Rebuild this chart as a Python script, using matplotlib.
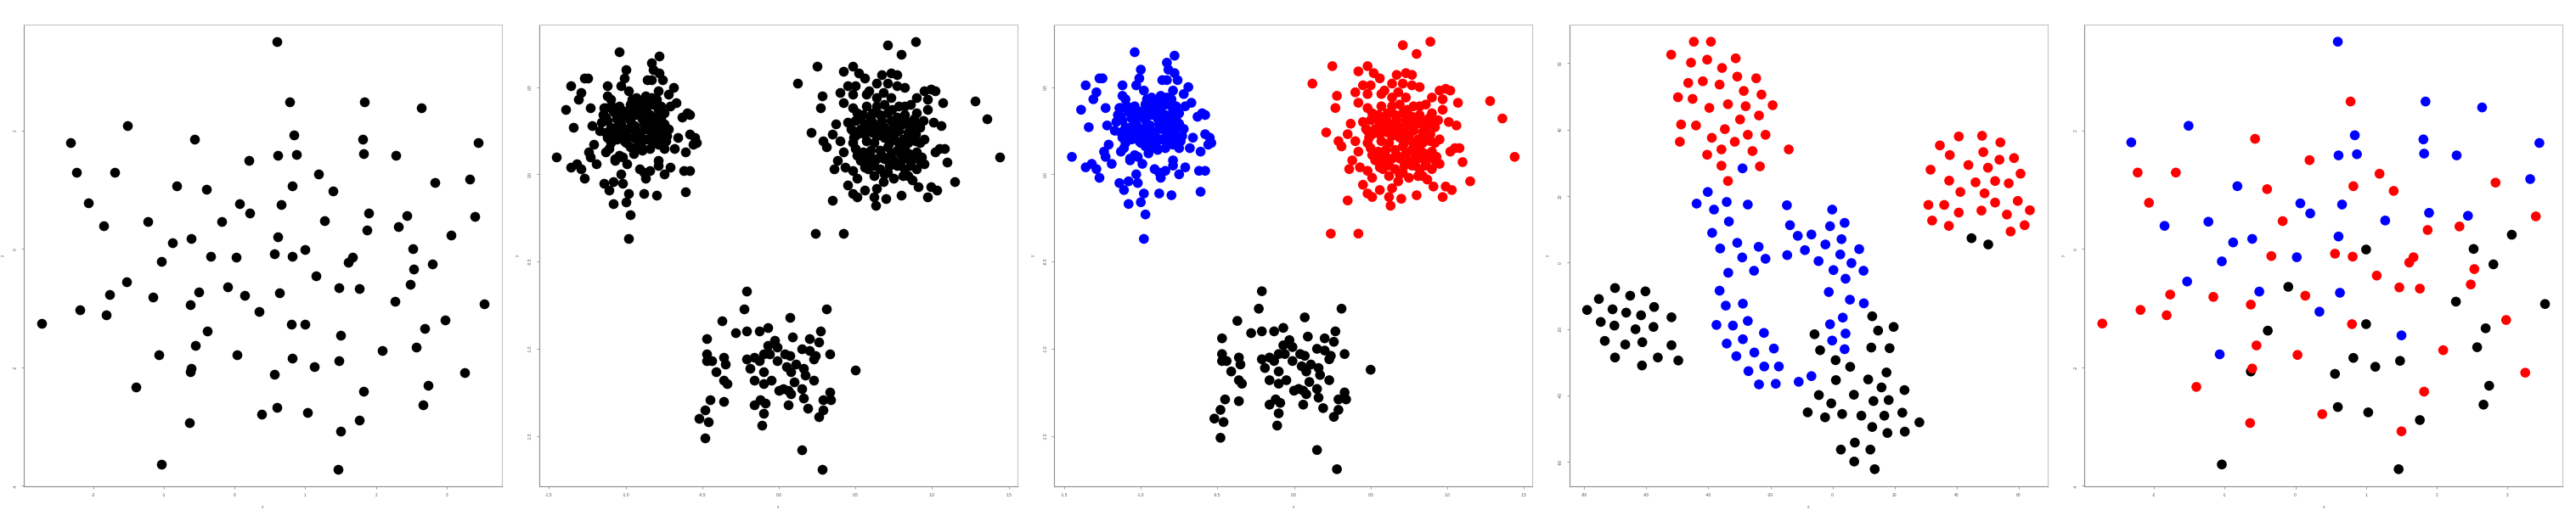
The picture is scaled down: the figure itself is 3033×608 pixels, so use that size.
import numpy as np
import matplotlib.pyplot as plt

plt.rcParams['font.family'] = ['Liberation Sans', 'DejaVu Sans']
plt.rcParams['axes.unicode_minus'] = False

# ---- panel 1 and 5: uniform-ish cloud, labels are the clusters shown in panel 5
raw_x = [0.60, 0.78, 1.84, 2.64, -1.51, -2.32, -0.57, 0.84, 1.81, 3.45,
         0.61, 0.87, 1.82, 2.28, 0.20, -2.23, -1.69, 1.19, 3.32, 2.83,
         -0.82, 0.82, -0.40, 1.39, -2.07, 0.07, 0.66, 0.21, 1.89, 2.44,
         3.40, -1.23, -0.18, 1.27, -1.85, 2.32, 1.87, 3.06, 0.61, -0.61,
         -0.88, 1.00, 2.52, 0.56, -0.34, 0.02, 0.81, 1.67, 1.61, -1.04,
         2.80, 2.53, 1.15, -1.53, -0.10, 1.47, 1.76, 2.48, -0.51, -1.77,
         -1.16, 0.14, 0.63, 2.27, 3.53, -0.63, -2.19, 0.34, -1.82, -2.73,
         2.98, 0.80, 1.00, 2.69, -0.39, 1.50, -0.55, 2.57, 2.09, -1.07,
         0.03, 0.82, 1.48, -0.63, -0.61, 1.13, 0.56, 3.25, -1.40, 2.74,
         1.82, 0.60, 2.66, 0.38, 1.03, 1.76, -0.64, 1.50, -1.04, 1.46]
raw_y = [3.50, 2.49, 2.49, 2.39, 2.08, 1.80, 1.86, 1.92, 1.85, 1.79,
         1.58, 1.60, 1.61, 1.58, 1.50, 1.29, 1.29, 1.27, 1.18, 1.12,
         1.06, 1.06, 1.01, 0.98, 0.78, 0.77, 0.75, 0.60, 0.61, 0.56,
         0.55, 0.46, 0.47, 0.48, 0.39, 0.38, 0.32, 0.24, 0.21, 0.17,
         0.11, -0.01, 0.00, -0.08, -0.12, -0.14, -0.13, -0.14, -0.23, -0.21,
         -0.26, -0.34, -0.45, -0.55, -0.64, -0.65, -0.67, -0.60, -0.72, -0.77,
         -0.81, -0.79, -0.74, -0.89, -0.93, -0.94, -1.03, -1.06, -1.12, -1.26,
         -1.20, -1.27, -1.27, -1.34, -1.38, -1.46, -1.63, -1.66, -1.71, -1.78,
         -1.79, -1.84, -1.89, -2.07, -2.02, -1.99, -2.11, -2.09, -2.33, -2.31,
         -2.41, -2.67, -2.63, -2.79, -2.76, -2.89, -2.94, -3.08, -3.64, -3.72]
# 1 = black, 2 = red, 3 = blue
raw_cl = [3, 2, 3, 3, 3, 3, 2, 3, 3, 3,
          3, 3, 3, 3, 2, 2, 2, 2, 3, 2,
          3, 2, 2, 2, 2, 3, 3, 3, 3, 3,
          2, 3, 2, 3, 3, 2, 2, 1, 3, 3,
          3, 1, 1, 2, 2, 3, 2, 2, 2, 3,
          1, 2, 2, 3, 1, 2, 2, 2, 3, 2,
          2, 2, 3, 1, 1, 2, 2, 3, 2, 2,
          2, 2, 1, 1, 1, 3, 2, 1, 2, 3,
          2, 1, 1, 1, 2, 1, 1, 2, 2, 1,
          2, 1, 1, 2, 1, 1, 2, 2, 1, 1]

# ---- panel 2 and 3: three blobs
blobA_x = [-1.04, -0.78, -0.83, -0.82, -0.78, -0.76, -1.27, -1.25, -1.36, -1.12,
           -0.86, -0.83, -1.00, -1.01, -1.03, -0.98, -0.69, -0.79, -1.29, -1.31,
           -1.12, -1.10, -0.72, -0.87, -0.83, -0.67, -1.39, -1.23, -0.71, -0.77,
           -0.60, -0.63, -0.58, -1.34, -1.22, -0.58, -0.55, -0.54, -0.56, -0.66,
           -0.68, -0.61, -1.21, -1.24, -1.23, -1.45, -1.11, -1.13, -1.36, -1.32,
           -1.29, -1.27, -1.19, -1.07, -1.04, -1.02, -0.99, -1.07, -0.79, -0.79,
           -0.71, -0.91, -0.88, -0.84, -0.87, -0.75, -0.62, -0.58, -1.14, -1.11,
           -1.08, -1.03, -1.02, -0.98, -0.88, -0.80, -0.61, -1.08, -1.00, -0.97,
           -0.98,
           -1.15, -1.13, -1.09, -1.04, -1.01, -0.97, -0.93, -0.90, -0.86, -0.82,
           -0.79, -0.75, -1.16, -1.12, -1.06, -1.03, -0.97, -0.93, -0.89, -0.84,
           -0.79, -0.75, -0.72, -1.17, -1.13, -1.08, -1.03, -0.99, -0.95, -0.91,
           -0.86, -0.80, -0.77, -0.73, -0.97, -0.93, -0.89, -0.82, -0.79, -0.75,
           -0.92, -0.87, -1.06, -1.02, -1.07, -0.88, -0.82, -1.10, -1.00,
           -1.13, -1.08, -1.04, -0.99, -0.95, -0.91, -0.87, -0.84, -0.81, -0.77,
           -0.76, -0.83, -0.88, -0.94, -0.99, -1.05, -1.10, -1.12, -1.06, -1.01,
           -0.95, -0.90, -0.85, -0.80, -0.74, -0.90, -0.95, -0.84, -1.14, -0.93,
           -0.88, -0.96, -0.80]
blobA_y = [0.70, 0.68, 0.64, 0.60, 0.58, 0.54, 0.55, 0.55, 0.51, 0.51,
           0.54, 0.54, 0.60, 0.55, 0.51, 0.48, 0.50, 0.48, 0.47, 0.43,
           0.45, 0.43, 0.46, 0.45, 0.44, 0.41, 0.37, 0.38, 0.39, 0.39,
           0.35, 0.33, 0.34, 0.27, 0.28, 0.23, 0.21, 0.18, 0.17, 0.21,
           0.15, 0.13, 0.17, 0.13, 0.10, 0.10, 0.15, 0.13, 0.04, 0.06,
           0.03, -0.02, 0.06, 0.09, 0.11, 0.10, 0.06, 0.08, 0.08, 0.05,
           0.04, 0.03, 0.01, 0.02, -0.02, 0.00, 0.02, 0.02, -0.05, -0.09,
           -0.04, 0.00, -0.05, -0.11, -0.11, -0.12, -0.10, -0.17, -0.16, -0.23,
           -0.37,
           0.34, 0.38, 0.39, 0.39, 0.36, 0.40, 0.41, 0.39, 0.39, 0.40,
           0.37, 0.35, 0.30, 0.31, 0.32, 0.29, 0.31, 0.34, 0.32, 0.34,
           0.31, 0.29, 0.26, 0.25, 0.24, 0.22, 0.24, 0.22, 0.26, 0.24,
           0.26, 0.26, 0.22, 0.22, 0.16, 0.15, 0.14, 0.18, 0.17, 0.15,
           0.19, 0.20, 0.27, 0.33, 0.35, 0.29, 0.29, 0.18, 0.18,
           0.33, 0.36, 0.31, 0.34, 0.37, 0.36, 0.36, 0.31, 0.33, 0.32,
           0.27, 0.23, 0.26, 0.28, 0.26, 0.26, 0.27, 0.21, 0.20, 0.19,
           0.21, 0.21, 0.20, 0.20, 0.19, 0.16, 0.12, 0.15, 0.38, 0.44,
           0.42, 0.43, 0.43]

blobB_x = [0.89, 0.71, 0.80, 0.25, 0.12, 1.28, 1.36, 1.44, 0.48, 0.42,
           0.52, 0.56, 0.67, 0.73, 0.77, 0.45, 0.50, 0.48, 0.40, 0.28,
           0.27, 0.42, 0.48, 0.57, 0.64, 0.59, 0.57, 0.71, 0.77, 0.82,
           0.95, 0.99, 1.02, 0.90, 0.97, 0.97, 1.07, 0.86, 0.78, 0.37,
           0.21, 0.35, 0.29, 0.31, 0.40, 0.42, 0.38, 0.36, 1.01, 1.06,
           0.92, 1.02, 1.05, 1.08, 1.10, 1.15, 0.97, 0.99, 1.03, 0.91,
           0.80, 0.70, 0.62, 0.63, 0.64, 0.48, 0.51, 0.56, 0.45, 0.51,
           0.43, 0.48, 0.35, 0.24, 0.42, 0.62, 0.68, 0.84, 0.87, 0.51,
           0.48,
           0.45, 0.50, 0.55, 0.60, 0.66, 0.71, 0.77, 0.82, 0.88, 0.94,
           0.48, 0.53, 0.58, 0.64, 0.69, 0.75, 0.81, 0.86, 0.92, 0.49,
           0.57, 0.64, 0.69, 0.75, 0.81, 0.86, 0.55, 0.60, 0.66, 0.71,
           0.77, 0.82, 0.88, 0.53, 0.58, 0.64, 0.69, 0.75, 0.81, 0.86,
           0.92, 0.95, 0.58, 0.66, 0.71, 0.77, 0.82, 0.90, 0.64, 0.69,
           0.73, 0.64, 0.68, 0.82, 0.51, 0.90,
           0.52, 0.56, 0.61, 0.67, 0.73, 0.79, 0.85, 0.90, 0.51, 0.56,
           0.61, 0.67, 0.72, 0.78, 0.84, 0.89, 0.62, 0.72, 0.78, 0.84,
           0.89, 0.60, 0.67, 0.73, 0.79, 0.85, 0.90, 0.56, 0.62, 0.72,
           0.79, 0.86, 0.93, 0.95, 0.47, 0.50, 0.55, 0.61, 0.74, 0.69,
           0.75, 0.81]
blobB_y = [0.76, 0.74, 0.69, 0.62, 0.52, 0.42, 0.32, 0.10, 0.62, 0.59,
           0.58, 0.55, 0.57, 0.58, 0.57, 0.51, 0.51, 0.46, 0.47, 0.45,
           0.38, 0.41, 0.38, 0.39, 0.52, 0.48, 0.46, 0.52, 0.51, 0.50,
           0.48, 0.49, 0.48, 0.44, 0.43, 0.37, 0.41, 0.40, 0.39, 0.29,
           0.24, 0.23, 0.19, 0.16, 0.19, 0.13, 0.08, 0.03, 0.30, 0.28,
           0.18, 0.13, 0.15, 0.15, 0.07, -0.04, -0.13, -0.07, -0.09, -0.07,
           -0.12, -0.14, -0.13, -0.18, -0.08, -0.11, -0.13, -0.09, -0.06, -0.02,
           0.04, 0.02, -0.15, -0.34, -0.34, -0.01, -0.04, -0.01, -0.03, 0.11,
           0.18,
           0.30, 0.31, 0.34, 0.32, 0.34, 0.35, 0.33, 0.34, 0.32, 0.31,
           0.25, 0.26, 0.27, 0.27, 0.27, 0.28, 0.29, 0.27, 0.27, 0.21,
           0.19, 0.22, 0.21, 0.22, 0.20, 0.21, 0.13, 0.14, 0.14, 0.16,
           0.14, 0.15, 0.11, 0.08, 0.06, 0.09, 0.09, 0.08, 0.09, 0.07,
           0.08, 0.06, 0.03, 0.03, 0.01, 0.05, 0.03, 0.03, 0.39, 0.40,
           0.44, 0.44, 0.47, 0.39, 0.35, 0.35,
           0.32, 0.29, 0.30, 0.31, 0.31, 0.31, 0.30, 0.29, 0.23, 0.23,
           0.24, 0.24, 0.24, 0.25, 0.24, 0.23, 0.18, 0.18, 0.18, 0.18,
           0.19, 0.10, 0.11, 0.12, 0.12, 0.12, 0.13, 0.04, 0.05, 0.05,
           0.05, 0.05, 0.10, 0.20, 0.26, 0.15, 0.10, 0.35, 0.37, 0.00,
           -0.02, -0.01]

blobC_x = [-0.21, -0.23, 0.31, -0.37, 0.07, -0.28, -0.21, -0.13, -0.07, -0.47,
           0.09, 0.27, 0.20, 0.26, -0.07, -0.03, -0.01, 0.15, 0.20, 0.24,
           0.23, 0.33, -0.47, -0.47, -0.44, -0.36, -0.35, -0.21, -0.16, -0.13,
           -0.19, -0.10, -0.06, -0.01, 0.04, 0.07, 0.05, 0.08, 0.11, 0.16,
           0.17, -0.41, -0.10, -0.16, -0.10, -0.05, -0.36, -0.34, 0.23, 0.10,
           0.15, 0.00, 0.03, 0.06, 0.08, 0.16, -0.45, -0.36, -0.16, -0.12,
           -0.09, 0.06, 0.19, 0.29, 0.33, 0.34, -0.48, -0.52, -0.46, -0.10,
           0.29, 0.26, -0.11, -0.48, 0.15, 0.28, 0.50]
blobC_y = [-0.67, -0.77, -0.77, -0.84, -0.82, -0.91, -0.90, -0.90, -0.88, -0.94,
           -0.93, -0.90, -0.94, -0.96, -0.98, -0.95, -0.99, -1.00, -1.01, -1.04,
           -1.06, -1.03, -1.03, -1.07, -1.07, -1.05, -1.09, -1.06, -1.05, -1.07,
           -1.11, -1.03, -1.03, -1.07, -1.03, -1.04, -1.10, -1.13, -1.09, -1.11,
           -1.15, -1.13, -1.13, -1.18, -1.20, -1.18, -1.18, -1.20, -1.18, -1.19,
           -1.23, -1.24, -1.23, -1.24, -1.26, -1.28, -1.29, -1.30, -1.32, -1.29,
           -1.31, -1.32, -1.34, -1.29, -1.25, -1.29, -1.35, -1.40, -1.42, -1.37,
           -1.35, -1.39, -1.44, -1.51, -1.58, -1.69, -1.12]

# ---- panel 4: 2-d embedding
emb_red_x = [-44.7, -39.2, -52.0, -45.6, -40.4, -31.2, -35.6, -30.7, -24.6, -46.5,
             -41.8, -36.4, -28.6, -22.9, -49.8, -45.1, -39.7, -33.7, -28.0, -19.3,
             -29.8, -23.7, -48.8, -44.0, -34.7, -38.9, -27.3, -21.6, -49.2, -31.5,
             -35.8, -25.8, -14.1, -40.4, -35.8, -23.4, -33.7,
             40.7, 48.2, 54.1, 34.6, 48.6, 37.8, 58.5, 53.8, 43.8, 50.1,
             31.6, 60.6, 37.6, 46.1, 52.4, 56.8, 41.2, 49.0, 59.7, 52.4,
             30.9, 36.0, 63.6, 40.7, 48.0, 56.2, 32.1, 37.5, 61.9, 57.4]
emb_red_y = [66.4, 66.4, 62.5, 60.1, 61.0, 61.4, 58.5, 55.9, 55.4, 54.0,
             54.5, 53.5, 51.6, 50.5, 49.7, 49.2, 46.5, 47.6, 47.0, 47.3,
             43.0, 44.2, 41.5, 41.2, 40.1, 37.5, 38.4, 38.4, 36.3, 36.3,
             34.0, 33.5, 34.0, 32.4, 29.1, 28.9, 24.5,
             37.9, 38.1, 36.1, 35.2, 33.2, 32.3, 31.4, 30.9, 29.3, 28.5,
             27.9, 26.7, 24.6, 24.1, 24.5, 23.8, 21.2, 20.8, 18.5, 18.0,
             17.3, 17.3, 15.7, 15.0, 15.6, 14.4, 12.6, 11.0, 11.2, 9.3]
emb_blue_x = [-29.0, -40.2, -43.8, -34.1, -27.3, -38.2, -14.7, -0.1, -33.4, -13.7,
              -0.8, 3.9, -38.8, -11.2, -6.8, -30.7, -23.8, 2.9, -2.3, -36.2,
              8.6, -8.9, -29.1, -21.6, -14.6, 2.5, -4.5, 6.1, -33.6, -25.3,
              0.3, 10.0, 4.2, -36.4, -1.2, 5.6, -28.9, -34.4, 10.1, 3.3,
              -27.3, -37.4, -32.1, -0.8, -22.1, 4.2, -28.9, -34.1, -0.1, -18.9,
              -25.2, 3.9, -31.0, -22.0, -17.3, -27.1, -6.8, -10.9, -23.7, -18.3]
emb_blue_y = [28.3, 21.2, 17.7, 18.2, 17.4, 15.9, 17.2, 15.9, 12.3, 11.2,
              10.9, 11.9, 8.9, 8.0, 8.4, 5.9, 4.7, 7.0, 5.4, 4.2,
              4.0, 3.7, 1.5, 1.1, 2.2, 2.4, 0.4, -0.2, -3.1, -2.5,
              -2.3, -2.5, -4.9, -8.5, -8.9, -11.2, -12.4, -13.0, -12.3, -16.6,
              -17.6, -18.8, -19.0, -18.6, -21.2, -21.4, -23.1, -24.4, -23.5, -25.9,
              -27.1, -26.1, -28.2, -31.3, -31.3, -32.7, -34.2, -35.9, -36.7, -36.5]
emb_black_x = [44.8, 50.2,
               -70.1, -60.3, -75.3, -65.2, -57.5, -79.1, -70.9, -66.5, -61.7, -51.9,
               -74.7, -70.3, -63.5, -57.7, -73.4, -66.8, -61.3, -51.9, -70.1, -56.3,
               -49.7, -61.4,
               12.8, 19.7, 14.7, -5.8, 12.5, 18.4, -4.0, 1.0, 5.7, 17.4,
               1.1, 11.5, 15.8, 23.2, -4.4, 6.9, 13.2, 18.1, -0.4, -8.0,
               -2.4, 3.1, 9.3, 16.7, 22.5, 28.0, 12.8, 17.7, 23.3, 7.2,
               2.7, 12.2, 7.0, 13.6]
emb_black_y = [7.3, 5.4,
               -7.7, -8.7, -11.0, -10.0, -13.4, -14.3, -14.1, -15.1, -15.9, -16.5,
               -17.9, -19.0, -20.1, -19.4, -23.6, -24.7, -24.0, -24.9, -28.6, -28.6,
               -29.5, -31.0,
               -16.2, -19.4, -20.5, -21.6, -25.6, -25.8, -26.4, -29.4, -31.4, -33.1,
               -35.4, -35.2, -37.6, -38.4, -39.9, -39.8, -41.7, -41.4, -42.4, -45.1,
               -46.6, -45.6, -46.1, -46.1, -45.2, -48.1, -49.5, -51.3, -50.9, -54.2,
               -56.3, -56.3, -59.9, -62.2]

palette = {1: 'black', 2: 'red', 3: 'blue'}
PT = 70          # marker area
GREY_DARK = '#8c8c8c'
GREY_LIGHT = '#c4c4c4'
TXT = '#555555'

W, H = 3033, 608
fig = plt.figure(figsize=(W / 100, H / 100), dpi=100)


def new_axes(i):
    left = 28 + i * 606.6
    return fig.add_axes([left / W, 35 / H, 563 / W, 544 / H])


def set_range(ax, xs, ys):
    # R style 4% padding
    xs = np.asarray(xs); ys = np.asarray(ys)
    dx = (xs.max() - xs.min()) * 0.04
    dy = (ys.max() - ys.min()) * 0.04
    ax.set_xlim(xs.min() - dx, xs.max() + dx)
    ax.set_ylim(ys.min() - dy, ys.max() + dy)


def style(ax, xt, yt, fmt):
    ax.set_xticks(xt)
    ax.set_yticks(yt)
    ax.set_xticklabels([fmt % v for v in xt])
    ax.set_yticklabels([fmt % v for v in yt])
    for s in ['top', 'right']:
        ax.spines[s].set_color(GREY_LIGHT)
        ax.spines[s].set_linewidth(0.8)
    for s in ['left', 'bottom']:
        ax.spines[s].set_color(GREY_DARK)
        ax.spines[s].set_linewidth(0.8)
    ax.tick_params(length=2.5, width=0.6, color=GREY_DARK, labelsize=3.5,
                   labelcolor=TXT, pad=3)
    for t in ax.get_yticklabels():
        t.set_rotation(90)
        t.set_va('center')
    ax.set_xlabel('x', fontsize=3.5, color=TXT, labelpad=7)
    ax.set_ylabel('y', fontsize=3.5, color=TXT, labelpad=7)


raw_cols = [palette[c] for c in raw_cl]
blob_x = blobA_x + blobB_x + blobC_x
blob_y = blobA_y + blobB_y + blobC_y
blob_cols = ['blue'] * len(blobA_x) + ['red'] * len(blobB_x) + ['black'] * len(blobC_x)
emb_x = emb_red_x + emb_blue_x + emb_black_x
emb_y = emb_red_y + emb_blue_y + emb_black_y
emb_cols = ['red'] * len(emb_red_x) + ['blue'] * len(emb_blue_x) + ['black'] * len(emb_black_x)

# panel 1
ax = new_axes(0)
ax.scatter(raw_x, raw_y, s=PT, c='black', linewidths=0)
set_range(ax, raw_x, raw_y)
style(ax, [-2, -1, 0, 1, 2, 3], [-4, -2, 0, 2], '%d')

# panel 2
ax = new_axes(1)
ax.scatter(blob_x, blob_y, s=PT, c='black', linewidths=0)
set_range(ax, blob_x, blob_y)
style(ax, [-1.5, -1.0, -0.5, 0.0, 0.5, 1.0, 1.5], [-1.5, -1.0, -0.5, 0.0, 0.5], '%.1f')

# panel 3
ax = new_axes(2)
ax.scatter(blob_x, blob_y, s=PT, c=blob_cols, linewidths=0)
set_range(ax, blob_x, blob_y)
style(ax, [-1.5, -1.0, -0.5, 0.0, 0.5, 1.0, 1.5], [-1.5, -1.0, -0.5, 0.0, 0.5], '%.1f')

# panel 4
ax = new_axes(3)
ax.scatter(emb_x, emb_y, s=PT, c=emb_cols, linewidths=0)
set_range(ax, emb_x, emb_y)
style(ax, [-80, -60, -40, -20, 0, 20, 40, 60], [-60, -40, -20, 0, 20, 40, 60], '%d')

# panel 5
ax = new_axes(4)
ax.scatter(raw_x, raw_y, s=PT, c=raw_cols, linewidths=0)
set_range(ax, raw_x, raw_y)
style(ax, [-2, -1, 0, 1, 2, 3], [-4, -2, 0, 2], '%d')

fig.savefig('out.png', dpi=100, facecolor='white')
